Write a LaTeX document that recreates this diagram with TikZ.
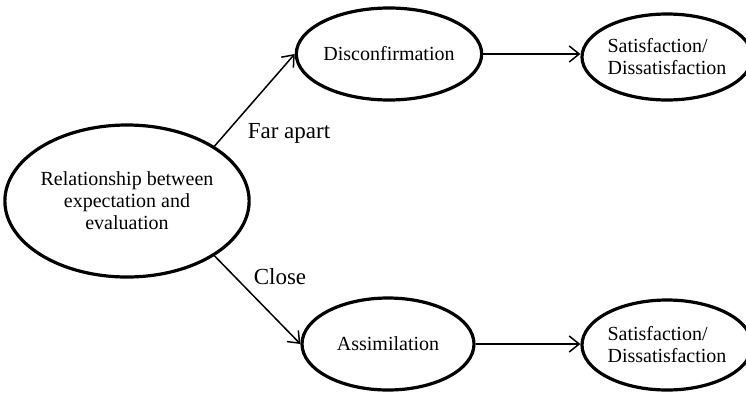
\documentclass[tikz,border=0pt]{standalone}
\usepackage{fontspec}
\setmainfont{Liberation Serif}
\usetikzlibrary{shapes.geometric,arrows.meta}

\tikzset{oval/.style = {draw, ellipse, line width=3.2pt, inner sep=0pt, font=\fontsize{20}{22}\selectfont}}

\begin{document}
\begin{tikzpicture}[x=1pt, y=-1pt]
            % Define edge and label styles
            \tikzstyle{link} = [line width=1.5pt, -{Straight Barb[length=10pt,width=16pt]}]
            \tikzstyle{tag} = [font=\fontsize{23}{25}\selectfont]
            \useasboundingbox (0,0) rectangle (746,394);
            
            % Starting node (left)
            \node[oval, minimum width=227pt, minimum height=152pt, align=center] (rel) at (127,201) {Relationship between\\ expectation and\\ evaluation};
            
            % Middle nodes
            \node[oval, minimum width=177pt, minimum height=92pt] (dis) at (389,54) {Disconfirmation};
            \node[oval, minimum width=172pt, minimum height=92pt] (ass) at (388,344) {Assimilation};
            
            % Outcome nodes (right, cut by the page edge)
            \node[oval, minimum width=170pt, minimum height=86pt, align=left] (sat1) at (667,57) {Satisfaction/\\ Dissatisfaction};
            \node[oval, minimum width=170pt, minimum height=90pt, align=left] (sat2) at (667,345) {Satisfaction/\\ Dissatisfaction};
            
            % Arrows
            \draw[link] (rel.north east) -- (dis.west);
            \draw[link] (rel.south east) -- (ass.west);
            \draw[link] (dis.east) -- (dis.east -| sat1.west);
            \draw[link] (ass.east) -- (ass.east -| sat2.west);
            
            % Add labels
            \node[tag] (far) at (289,133) {Far apart};
            \node[tag] (close) at (280,277) {Close};
            
        \end{tikzpicture}
\end{document}
